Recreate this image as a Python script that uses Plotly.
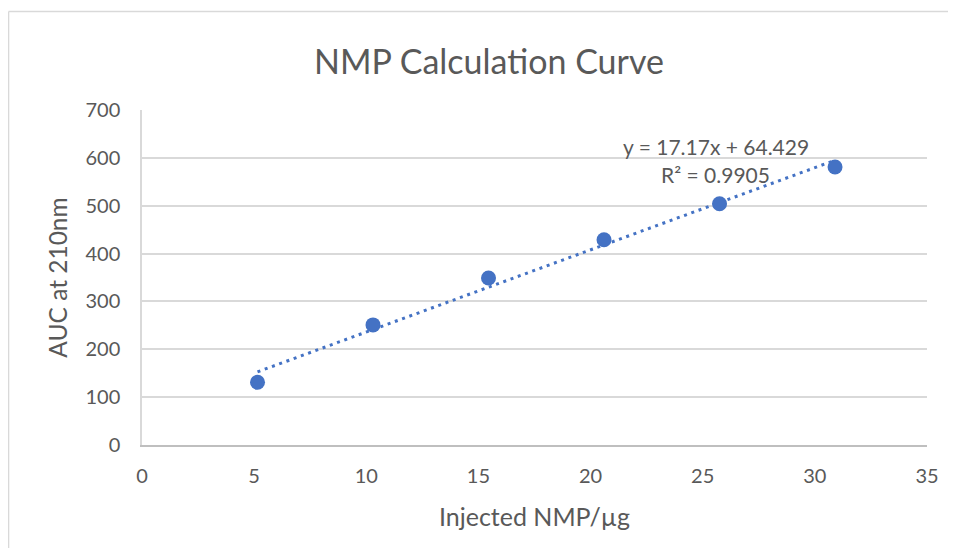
import plotly.graph_objects as go

# Data
injected_nmp_ug = [5.15, 10.3, 15.45, 20.6, 25.75, 30.9]
auc_210nm = [131, 251, 349, 429, 504, 581]

# Linear trendline coefficients shown on the chart
slope = 17.17
intercept = 64.429
r_squared = 0.9905

x_ticks = [0, 5, 10, 15, 20, 25, 30, 35]
y_ticks = [0, 100, 200, 300, 400, 500, 600, 700]

BLUE = "#4472C4"
TXT = "#595959"
FONT = "Lato"

trend_x = [min(injected_nmp_ug), max(injected_nmp_ug)]
trend_y = [slope * v + intercept for v in trend_x]

fig = go.Figure()
fig.add_trace(go.Scatter(
    x=trend_x, y=trend_y, mode="lines",
    line=dict(color=BLUE, width=3, dash="3px,4.7px"),
    hoverinfo="skip", showlegend=False,
))
fig.add_trace(go.Scatter(
    x=injected_nmp_ug, y=auc_210nm, mode="markers",
    marker=dict(color=BLUE, size=15, line=dict(width=0)),
    showlegend=False,
))

fig.add_annotation(
    x=25.59, y=624, xref="x", yref="y",
    text=f"y = {slope}x + {intercept}",
    showarrow=False, xanchor="center", yanchor="middle",
    font=dict(family=FONT, size=21, color=TXT),
)
fig.add_annotation(
    x=25.59, y=566, xref="x", yref="y",
    text=f"R² = {r_squared}",
    showarrow=False, xanchor="center", yanchor="middle",
    font=dict(family=FONT, size=21, color=TXT),
)

# outer chart border (left and top edges visible)
fig.add_shape(type="line", xref="paper", yref="paper",
              x0=-0.17, x1=-0.17, y0=-0.5, y1=1.294,
              line=dict(color="#D9D9D9", width=1.5), layer="below")
fig.add_shape(type="line", xref="paper", yref="paper",
              x0=-0.17, x1=1.2, y0=1.294, y1=1.294,
              line=dict(color="#D9D9D9", width=1.5), layer="below")

fig.update_layout(
    width=940, height=540,
    margin=dict(l=134, r=21, t=102, b=103, autoexpand=False),
    paper_bgcolor="white", plot_bgcolor="white",
    title=dict(text="NMP Calculation Curve", x=0.442, xref="paper", xanchor="center",
               y=0.9, yanchor="middle",
               font=dict(family=FONT, size=34, color=TXT)),
    font=dict(family=FONT, color=TXT),
    xaxis=dict(
        range=[0, 35], tickvals=x_ticks, ticks="", showgrid=False,
        zeroline=False, showline=True, linecolor="#BFBFBF", linewidth=1.5,
        tickfont=dict(size=20, color=TXT), ticklabelstandoff=12, automargin=False,
        title=dict(text="Injected NMP/µg", font=dict(size=25, color=TXT), standoff=23),
    ),
    yaxis=dict(
        range=[0, 700], tickvals=y_ticks, ticks="", showgrid=True,
        gridcolor="#D9D9D9", gridwidth=1.5,
        zeroline=False, showline=True, linecolor="#D9D9D9", linewidth=1.5,
        tickfont=dict(size=20, color=TXT), ticklabelstandoff=16, automargin=False,
        title=dict(text="AUC at 210nm", font=dict(size=24.5, color=TXT), standoff=11),
    ),
)

fig.write_html("out.html")
